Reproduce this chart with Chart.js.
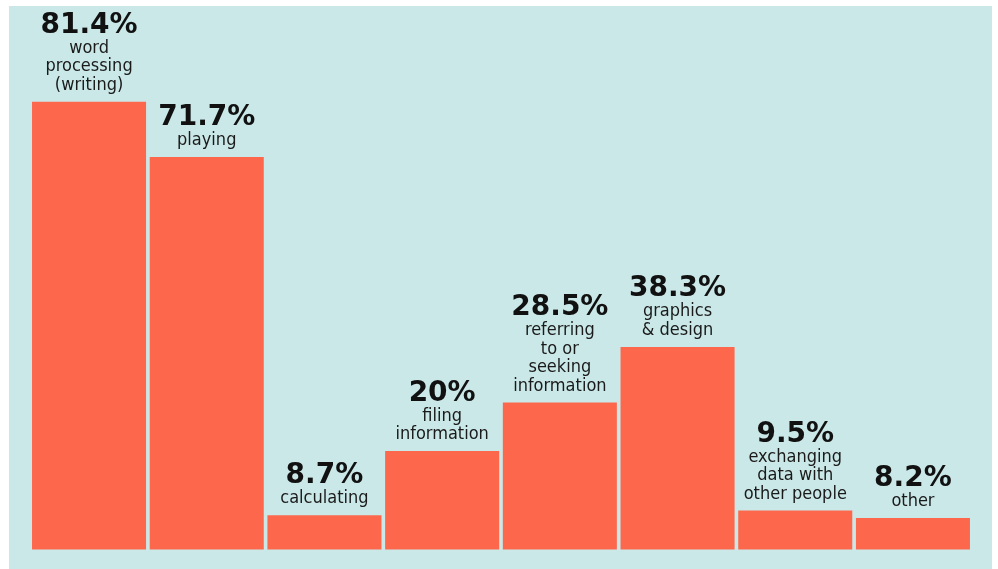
<!DOCTYPE html>
<html>
<head>
<meta charset="utf-8">
<script src="https://cdn.jsdelivr.net/npm/chart.js@4/dist/chart.umd.min.js"></script>
<style>
  html, body { margin: 0; padding: 0; background: #ffffff; }
  #wrap { width: 998px; height: 569px; position: relative; }
</style>
</head>
<body>
<div id="wrap"><canvas id="c" width="998" height="569"></canvas></div>
<script>
// What children use the computer for (share of respondents, %)
const categories = [
  ['word', 'processing', '(writing)'],
  ['playing'],
  ['calculating'],
  ['filing', 'information'],
  ['referring', 'to or', 'seeking', 'information'],
  ['graphics', '& design'],
  ['exchanging', 'data with', 'other people'],
  ['other']
];
const shares = [81.4, 71.7, 8.7, 20, 28.5, 38.3, 9.5, 8.2];

const panelColor = '#cbe8e8';
const barColor = '#fd684d';

// Teal panel behind the plot
const panelBg = {
  id: 'panelBg',
  beforeDraw(chart) {
    const ctx = chart.ctx;
    ctx.save();
    ctx.fillStyle = panelColor;
    ctx.fillRect(9, 6, 983, 563);
    ctx.restore();
  }
};

// Value and category text stacked above each bar
const barLabels = {
  id: 'barLabels',
  afterDatasetsDraw(chart) {
    const ctx = chart.ctx;
    const meta = chart.getDatasetMeta(0);
    ctx.save();
    ctx.textAlign = 'center';
    ctx.textBaseline = 'alphabetic';
    meta.data.forEach((bar, i) => {
      const lines = categories[i];
      const lineH = 18.4;
      let y = bar.y - 12;
      ctx.fillStyle = '#1a1a1a';
      ctx.font = '18px "DejaVu Sans Condensed", "DejaVu Sans", sans-serif';
      for (let k = lines.length - 1; k >= 0; k--) {
        ctx.fillText(lines[k], bar.x, y);
        if (k > 0) y -= lineH;
      }
      ctx.fillStyle = '#111111';
      ctx.font = 'bold 28px "DejaVu Sans", sans-serif';
      ctx.fillText(shares[i] + '%', bar.x, y - 20);
    });
    ctx.restore();
  }
};

new Chart(document.getElementById('c'), {
  type: 'bar',
  data: {
    labels: categories.map(l => l.join(' ')),
    datasets: [{
      data: shares,
      backgroundColor: barColor,
      borderWidth: 0,
      categoryPercentage: 1,
      barPercentage: 0.969
    }]
  },
  options: {
    responsive: false,
    animation: false,
    layout: { padding: { left: 30.2, right: 26.2, top: 30, bottom: 19.5 } },
    plugins: { legend: { display: false }, tooltip: { enabled: false } },
    scales: {
      x: { display: false },
      y: { display: false, min: 2.66, max: 94.04 }
    }
  },
  plugins: [panelBg, barLabels]
});
</script>
</body>
</html>
